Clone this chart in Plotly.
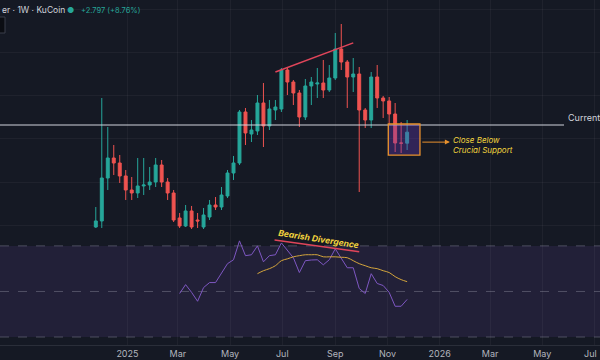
import pandas as pd
import plotly.graph_objects as go

# ---------------- data ----------------
dates = pd.date_range("2024-11-25", periods=53, freq="7D")

opens = [10.64, 12.17, 23.09, 28.17, 26.90, 23.60, 20.04, 19.28, 21.06, 21.31,
         22.07, 26.39, 22.07, 19.28, 12.93, 10.90, 14.71, 12.42, 10.64, 13.18,
         16.23, 15.72, 18.52, 24.36, 26.90, 39.85, 34.26, 35.03, 42.14, 36.30,
         40.36, 40.61, 50.52, 47.47, 44.68, 38.58, 46.46, 46.96, 47.22, 45.44,
         48.49, 55.85, 52.55, 48.74, 49.50, 40.36, 37.82, 48.74, 43.41, 42.65,
         39.34, 31.98, 31.93]
highs = [15.72, 43.41, 36.04, 31.47, 28.93, 25.12, 23.34, 28.17, 28.17, 25.88,
         28.17, 27.66, 23.09, 20.04, 14.20, 16.23, 15.98, 14.20, 15.47, 17.50,
         18.26, 20.80, 25.12, 28.68, 40.36, 40.87, 37.82, 44.17, 47.22, 42.90,
         42.90, 51.03, 51.03, 47.98, 45.44, 48.23, 48.74, 51.03, 53.06, 51.79,
         59.92, 62.20, 53.06, 53.57, 51.28, 40.87, 50.01, 51.79, 43.92, 43.66,
         42.14, 37.31, 37.82]
lows = [10.39, 10.39, 20.04, 23.85, 21.82, 17.50, 17.50, 18.01, 18.77, 20.04,
        20.80, 20.80, 17.50, 11.91, 10.39, 10.64, 10.13, 10.39, 10.13, 12.42,
        14.96, 14.96, 18.01, 22.58, 26.39, 31.47, 32.23, 34.01, 30.96, 35.28,
        37.82, 39.85, 44.17, 41.63, 36.04, 37.82, 41.63, 43.41, 43.41, 44.93,
        47.98, 50.52, 40.87, 44.93, 19.53, 35.79, 35.79, 40.87, 38.33, 36.55,
        29.69, 29.44, 30.20]
closes = [12.17, 23.09, 28.17, 26.90, 23.60, 20.04, 19.28, 21.06, 21.31, 22.07,
          26.39, 22.07, 19.28, 12.42, 10.90, 14.71, 10.64, 12.17, 13.69, 16.23,
          15.72, 18.77, 24.36, 26.90, 39.85, 34.52, 35.28, 42.14, 36.30, 40.61,
          41.12, 50.52, 47.47, 44.68, 38.58, 46.46, 47.47, 47.22, 45.44, 48.49,
          55.85, 52.55, 48.74, 49.50, 40.36, 37.82, 48.74, 43.41, 42.65, 39.34,
          31.98, 31.93, 34.73]

rsi_values = [None] * 14 + [
    49.1, 53.0, 49.6, 45.7, 51.7, 53.9, 53.9, 57.8, 62.2, 63.9,
    72.2, 65.7, 66.1, 70.0, 63.0, 65.7, 66.1, 71.3, 67.8, 64.8,
    58.3, 63.5, 63.8, 63.9, 61.7, 63.9, 68.7, 64.8, 60.4, 60.4,
    51.3, 49.1, 57.8, 53.5, 52.6, 49.6, 43.5, 43.5, 46.5]
rsi_ma_values = [None] * 27 + [
    57.8, 59.1, 60.0, 61.3, 63.5, 64.3, 65.2, 65.7, 66.1, 66.1,
    66.1, 65.2, 65.2, 65.2, 65.0, 64.8, 63.5, 62.2, 61.3, 60.4,
    60.0, 59.1, 58.3, 56.5, 55.2, 54.3]

tick_dates = ["2025-01-01", "2025-03-01", "2025-05-01", "2025-07-01", "2025-09-01",
              "2025-11-01", "2026-01-01", "2026-03-01", "2026-05-01", "2026-07-01"]
tick_labels = ["2025", "Mar", "May", "Jul", "Sep", "Nov", "2026", "Mar", "May", "Jul"]

# annotation drawings
support_level = 36.55
price_trend_dates = ["2025-06-23", "2025-09-22"]
price_trend_values = [50.0, 57.4]
rsi_trend_dates = ["2025-06-22", "2025-09-29"]
rsi_trend_values = [72.6, 67.4]
box_dates = ["2025-11-02", "2025-12-09"]
box_prices = [28.9, 36.8]
arrow_dates = ["2025-12-10", "2026-01-13"]
arrow_price = 32.2
note_date = "2026-01-14"
note_price = 31.5
diverg_date = "2025-08-12"
diverg_rsi = 73.0

# ---------------- figure ----------------
BG = "#151924"
UP = "#26A69A"
DOWN = "#EF5350"
GRID = "rgba(255,255,255,0.045)"
PLOT_H = 345
SPLIT = 237
main_bottom = (PLOT_H - SPLIT) / PLOT_H

fig = go.Figure()
fig.add_trace(go.Candlestick(
    x=dates, open=opens, high=highs, low=lows, close=closes,
    increasing=dict(line=dict(color=UP, width=1), fillcolor=UP),
    decreasing=dict(line=dict(color=DOWN, width=1), fillcolor=DOWN),
    whiskerwidth=0, xaxis="x", yaxis="y", showlegend=False, hoverinfo="skip"))

fig.add_trace(go.Scatter(x=dates, y=rsi_values, mode="lines",
                         line=dict(color="#7E57C2", width=1),
                         xaxis="x2", yaxis="y2", showlegend=False, hoverinfo="skip"))
fig.add_trace(go.Scatter(x=dates, y=rsi_ma_values, mode="lines",
                         line=dict(color="#D4A53C", width=1, shape="spline"),
                         xaxis="x2", yaxis="y2", showlegend=False, hoverinfo="skip"))

x_range = ["2024-08-05", "2026-07-07 12:00"]

fig.update_layout(
    width=600, height=360,
    margin=dict(l=0, r=0, t=0, b=360 - PLOT_H),
    paper_bgcolor=BG, plot_bgcolor=BG,
    font=dict(family="Inter, Roboto, sans-serif", color="#B2B5BE", size=10),
    xaxis=dict(domain=[0, 1], anchor="y", range=x_range, type="date",
               tickvals=tick_dates, ticktext=tick_labels, showticklabels=False,
               showgrid=True, gridcolor=GRID, zeroline=False,
               rangeslider=dict(visible=False), fixedrange=True),
    yaxis=dict(domain=[main_bottom, 1], anchor="x", range=[8.10, 68.3],
               showticklabels=False, showgrid=True, gridcolor=GRID, dtick=11,
               zeroline=False),
    xaxis2=dict(domain=[0, 1], anchor="y2", range=x_range, type="date",
                matches="x", tickvals=tick_dates, ticktext=tick_labels,
                showgrid=True, gridcolor=GRID, zeroline=False, ticks="",
                tickfont=dict(size=9, color="#B2B5BE"),
                showline=True, linecolor="#2A2E39"),
    yaxis2=dict(domain=[0, main_bottom], anchor="x2", range=[26.5, 73.9],
                showticklabels=False, showgrid=False, zeroline=False),
)

shapes = []
# RSI band background and levels
shapes.append(dict(type="rect", xref="paper", yref="y2", x0=0, x1=1, y0=30, y1=70,
                   fillcolor="rgba(126,87,194,0.13)", line=dict(width=0), layer="below"))
for lvl in (70, 50, 30):
    shapes.append(dict(type="line", xref="paper", yref="y2", x0=0, x1=1, y0=lvl, y1=lvl,
                       line=dict(color="rgba(140,140,160,0.45)", width=1, dash="dash"),
                       layer="below"))
# support line
shapes.append(dict(type="line", xref="paper", yref="y", x0=0, x1=564 / 600,
                   y0=support_level, y1=support_level,
                   line=dict(color="#D1D4DC", width=1)))
# price trend line
shapes.append(dict(type="line", xref="x", yref="y",
                   x0=price_trend_dates[0], x1=price_trend_dates[1],
                   y0=price_trend_values[0], y1=price_trend_values[1],
                   line=dict(color="#E0455A", width=1.5)))
# rsi trend line
shapes.append(dict(type="line", xref="x2", yref="y2",
                   x0=rsi_trend_dates[0], x1=rsi_trend_dates[1],
                   y0=rsi_trend_values[0], y1=rsi_trend_values[1],
                   line=dict(color="#E0455A", width=1.5)))
# box
shapes.append(dict(type="rect", xref="x", yref="y",
                   x0=box_dates[0], x1=box_dates[1], y0=box_prices[0], y1=box_prices[1],
                   fillcolor="rgba(103,58,183,0.35)",
                   line=dict(color="#E8912D", width=1.3), layer="above"))
# header button
shapes.append(dict(type="rect", xref="paper", yref="paper",
                   x0=-0.01, x1=5 / 600, y0=1 - 33 / PLOT_H, y1=1 - 17 / PLOT_H,
                   fillcolor="#0B0D13", line=dict(color="#3A3E4A", width=1)))

annotations = [
    dict(text="er · 1W · KuCoin", xref="paper", yref="paper", x=0, y=1 - 10 / PLOT_H,
         xanchor="left", yanchor="middle", showarrow=False,
         font=dict(size=8.5, color="#D1D4DC")),
    dict(text="●", xref="paper", yref="paper", x=70 / 600, y=1 - 10 / PLOT_H,
         xanchor="center", yanchor="middle", showarrow=False,
         font=dict(size=8, color=UP)),
    dict(text="+2.797 (+8.76%)", xref="paper", yref="paper", x=79 / 600, y=1 - 10 / PLOT_H,
         xanchor="left", yanchor="middle", showarrow=False,
         font=dict(size=7.5, color=UP)),
    dict(text="Current", xref="paper", yref="paper", x=566 / 600, y=1 - 117 / PLOT_H,
         xanchor="left", yanchor="middle", showarrow=False,
         font=dict(size=9, color="#D1D4DC")),
    dict(text="Jul", xref="paper", yref="paper", x=590 / 600, y=1 - 353 / PLOT_H,
         xanchor="center", yanchor="middle", showarrow=False,
         font=dict(size=9, color="#B2B5BE")),
    dict(text="", xref="x", yref="y", x=arrow_dates[1], y=arrow_price,
         axref="x", ayref="y", ax=arrow_dates[0], ay=arrow_price,
         showarrow=True, arrowhead=2, arrowsize=1, arrowwidth=1, arrowcolor="#E8912D"),
    dict(text="<i>Close Below<br>Crucial Support</i>", xref="x", yref="y",
         x=note_date, y=note_price, xanchor="left", yanchor="middle", align="left",
         showarrow=False, font=dict(size=8, color="#F2D43D")),
    dict(text="<i><b>Bearish Divergence</b></i>", xref="x2", yref="y2",
         x=diverg_date, y=diverg_rsi, xanchor="center", yanchor="middle",
         showarrow=False, textangle=9, font=dict(size=8.5, color="#F2D43D")),
]

fig.update_layout(shapes=shapes, annotations=annotations)
fig.write_html("out.html", config={"displayModeBar": False},
               post_script="document.body.style.margin='0';document.body.style.overflow='hidden';")
